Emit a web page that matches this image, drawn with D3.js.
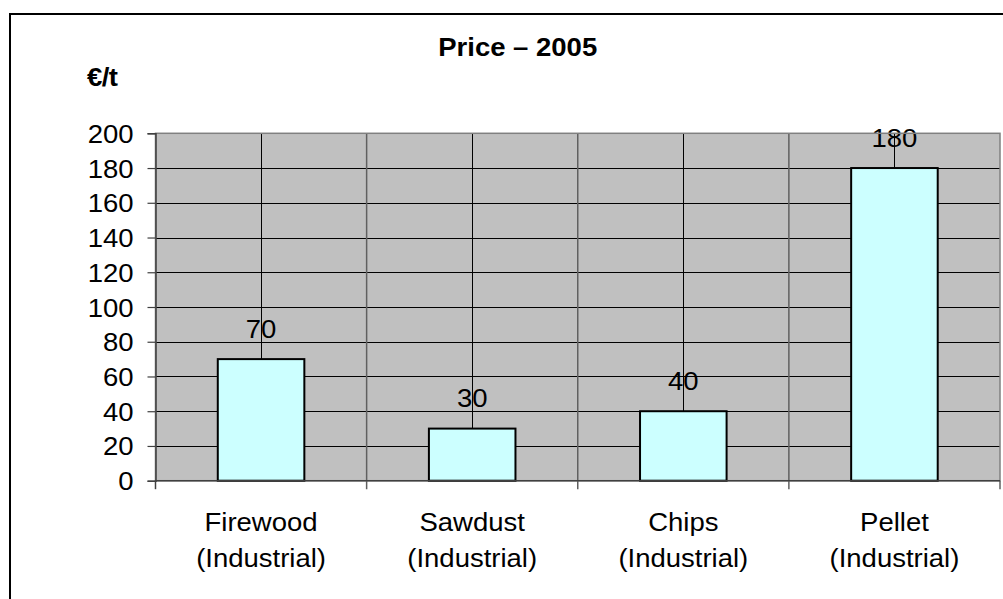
<!DOCTYPE html>
<html>
<head>
<meta charset="utf-8">
<script src="https://cdn.jsdelivr.net/npm/d3@7"></script>
<style>
  html, body { margin: 0; padding: 0; background: #fff; }
  svg { display: block; }
  text { font-family: "Liberation Sans", Arial, sans-serif; fill: #000; }
</style>
</head>
<body>
<svg id="chart" width="1003" height="599"></svg>
<script>
// Wood fuel prices, 2005 (€/t)
const categories = ["Firewood", "Sawdust", "Chips", "Pellet"];
const subLabels = ["(Industrial)", "(Industrial)", "(Industrial)", "(Industrial)"];
const prices = [70, 30, 40, 180];
const yTicks = [0, 20, 40, 60, 80, 100, 120, 140, 160, 180, 200];
const titleText = "Price – 2005";
const unitText = "€/t";

const svg = d3.select("#chart");
const stretch = 1.1;            // slightly wide typeface
const fontSize = 25;

const plot = { left: 155.5, right: 1000, top: 133.3, bottom: 480.7 };

// outer chart frame
svg.append("rect")
  .attr("x", 10).attr("y", 14)
  .attr("width", 1020).attr("height", 620)
  .attr("fill", "#fff").attr("stroke", "#000").attr("stroke-width", 2);

const x = d3.scaleBand()
  .domain(categories)
  .range([plot.left, plot.right])
  .paddingInner(0.59)
  .paddingOuter(0.295);

const y = d3.scaleLinear()
  .domain([0, 200])
  .range([plot.bottom, plot.top]);

const step = x.step();
const boundary = d => x(d) - step * x.paddingOuter();
const center = d => x(d) + x.bandwidth() / 2;

// plot background
svg.append("rect")
  .attr("x", plot.left).attr("y", plot.top)
  .attr("width", plot.right - plot.left)
  .attr("height", plot.bottom - plot.top)
  .attr("fill", "#C0C0C0");

// value labels (gridlines run across them)
const valueLabels = svg.append("g");
categories.forEach((c, i) => {
  valueLabels.append("text")
    .attr("transform", `translate(${center(c)},${y(prices[i]) - 21.5}) scale(${stretch},1)`)
    .attr("text-anchor", "middle")
    .attr("font-size", fontSize)
    .text(prices[i]);
});

// horizontal gridlines
svg.append("g")
  .selectAll("line")
  .data(yTicks.filter(v => v > 0 && v < 200))
  .join("line")
  .attr("x1", plot.left).attr("x2", plot.right)
  .attr("y1", d => Math.round(y(d)) + 0.5)
  .attr("y2", d => Math.round(y(d)) + 0.5)
  .attr("stroke", "#000").attr("stroke-width", 1);

// vertical gridlines at category centres
svg.append("g")
  .selectAll("line")
  .data(categories)
  .join("line")
  .attr("x1", d => Math.round(center(d)) + 0.5)
  .attr("x2", d => Math.round(center(d)) + 0.5)
  .attr("y1", plot.top).attr("y2", plot.bottom)
  .attr("stroke", "#000").attr("stroke-width", 1);

// vertical gridlines at category boundaries, extended below as ticks
const bounds = categories.slice(1).map(boundary);
svg.append("g")
  .selectAll("line")
  .data(bounds)
  .join("line")
  .attr("x1", d => d).attr("x2", d => d)
  .attr("y1", plot.top).attr("y2", plot.bottom + 8.5)
  .attr("stroke", "#606060").attr("stroke-width", 1.5);

// plot border
svg.append("rect")
  .attr("x", plot.left).attr("y", plot.top)
  .attr("width", plot.right - plot.left)
  .attr("height", plot.bottom - plot.top)
  .attr("fill", "none").attr("stroke", "#808080").attr("stroke-width", 1.5);

// right edge tick
svg.append("line")
  .attr("x1", plot.right).attr("x2", plot.right)
  .attr("y1", plot.bottom).attr("y2", plot.bottom + 8.5)
  .attr("stroke", "#606060").attr("stroke-width", 1.5);

// bars
svg.append("g")
  .selectAll("rect")
  .data(categories)
  .join("rect")
  .attr("x", d => x(d))
  .attr("width", x.bandwidth())
  .attr("y", (d, i) => y(prices[i]))
  .attr("height", (d, i) => y(0) - y(prices[i]))
  .attr("fill", "#CCFFFF")
  .attr("stroke", "#000").attr("stroke-width", 2);

// y axis
const yAxis = svg.append("g")
  .attr("transform", `translate(${plot.left},0)`)
  .call(d3.axisLeft(y).tickValues(yTicks).tickSize(8).tickPadding(0));
yAxis.select(".domain").attr("stroke", "#404040").attr("stroke-width", 1.5);
yAxis.selectAll(".tick line").attr("stroke", "#404040").attr("stroke-width", 1.2);
yAxis.selectAll(".tick text")
  .attr("x", null).attr("dy", null)
  .attr("transform", `translate(-22,9) scale(${stretch},1)`)
  .attr("text-anchor", "end")
  .attr("font-size", fontSize)
  .attr("font-family", "Liberation Sans, Arial, sans-serif")
  .attr("fill", "#000");

// x axis baseline with left tick
svg.append("line")
  .attr("x1", plot.left).attr("x2", plot.right)
  .attr("y1", plot.bottom).attr("y2", plot.bottom)
  .attr("stroke", "#404040").attr("stroke-width", 1.5);
svg.append("line")
  .attr("x1", plot.left).attr("x2", plot.left)
  .attr("y1", plot.bottom).attr("y2", plot.bottom + 8.5)
  .attr("stroke", "#404040").attr("stroke-width", 1.5);

// category labels
const xl = svg.append("g");
categories.forEach((c, i) => {
  const t = xl.append("text")
    .attr("transform", `translate(${center(c)},530.7) scale(${stretch},1)`)
    .attr("text-anchor", "middle")
    .attr("font-size", fontSize);
  t.append("tspan").attr("x", 0).attr("y", 0).text(c);
  t.append("tspan").attr("x", 0).attr("y", 36).text(subLabels[i]);
});

// title
svg.append("text")
  .attr("transform", `translate(517.7,56) scale(${stretch},1)`)
  .attr("text-anchor", "middle")
  .attr("font-size", fontSize)
  .attr("font-weight", "bold")
  .text(titleText);

// unit label
svg.append("text")
  .attr("transform", `translate(87,86) scale(${stretch},1)`)
  .attr("font-size", fontSize)
  .attr("font-weight", "bold")
  .attr("letter-spacing", -0.5)
  .text(unitText);
</script>
</body>
</html>
